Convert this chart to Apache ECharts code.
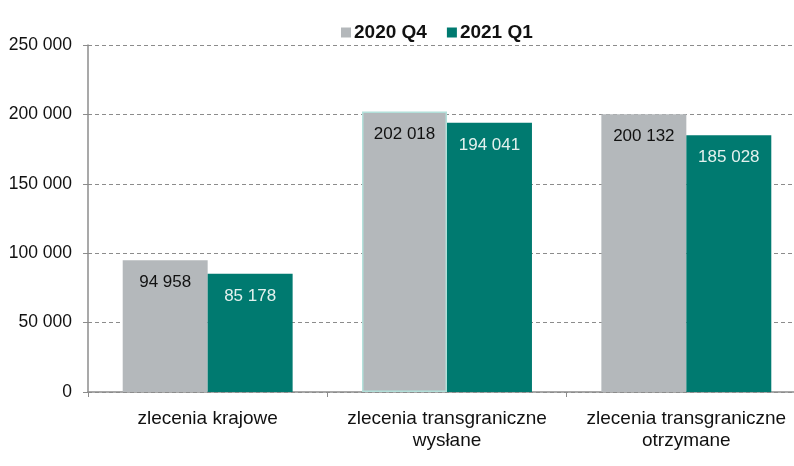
<!DOCTYPE html>
<html><head><meta charset="utf-8">
<script src="https://cdn.jsdelivr.net/npm/echarts@6/dist/echarts.min.js"></script>
<style>html,body{margin:0;padding:0;background:#fff}#c{width:794px;height:466px}</style>
</head><body><div id="c"></div>
<script>
const categories = ['zlecenia krajowe', 'zlecenia transgraniczne\nwysłane', 'zlecenia transgraniczne\notrzymane'];
const seriesNames = ['2020 Q4', '2021 Q1'];
const q4_2020 = [94958, 202018, 200132];
const q1_2021 = [85178, 194041, 185028];
const yTicks = [0, 50000, 100000, 150000, 200000, 250000];

const fmt = v => String(v).replace(/\B(?=(\d{3})+(?!\d))/g, ' ');
const font = '"Liberation Sans", Arial, sans-serif';
const chart = echarts.init(document.getElementById('c'), null, {renderer: 'canvas'});
chart.setOption({
  animation: false,
  textStyle: {fontFamily: font},
  legend: {
    data: seriesNames, top: 18, left: 336, itemWidth: 10, itemHeight: 10, itemGap: 20,
    icon: 'rect',
    textStyle: {fontFamily: font, fontSize: 19, fontWeight: 'bold', color: '#111', padding: [0,0,0,-2]}
  },
  grid: {left: 88, width: 718, top: 45, bottom: 74, containLabel: false, outerBoundsMode: 'none'},
  xAxis: {
    type: 'category', data: categories,
    axisLine: {lineStyle: {color: '#8c8c8c', width: 1.5}},
    axisTick: {show: true, length: 5, lineStyle: {color: '#8c8c8c'}},
    axisLabel: {fontFamily: font, fontSize: 19, color: '#111', lineHeight: 22, margin: 16, interval: 0, hideOverlap: false}
  },
  yAxis: {
    type: 'value', min: 0, max: 250000, interval: 50000,
    axisLine: {show: true, lineStyle: {color: '#8c8c8c', width: 1.5}},
    axisTick: {show: true, length: 5, lineStyle: {color: '#8c8c8c'}},
    splitLine: {lineStyle: {color: '#8c8c8c', type: [4, 3], width: 1}},
    axisLabel: {fontFamily: font, fontSize: 17.5, color: '#111', margin: 16,
      formatter: v => yTicks.includes(v) ? fmt(v) : ''}
  },
  series: [
    {
      name: seriesNames[0], type: 'bar', barCategoryGap: '29%', barGap: '0%',
      itemStyle: {color: '#b4b8bb'},
      data: q4_2020.map((v, i) => i === 1 ? {value: v, itemStyle: {borderColor: '#b2e0da', borderWidth: 1.5}} : v),
      label: {show: true, position: 'insideTop', distance: 14, fontFamily: font, fontSize: 17, color: '#111', formatter: p => fmt(p.value)}
    },
    {
      name: seriesNames[1], type: 'bar', barGap: '0%',
      itemStyle: {color: '#007a70'},
      data: q1_2021,
      label: {show: true, position: 'insideTop', distance: 14, fontFamily: font, fontSize: 17, color: '#e3f1ee', formatter: p => fmt(p.value)}
    }
  ]
});
</script></body></html>
